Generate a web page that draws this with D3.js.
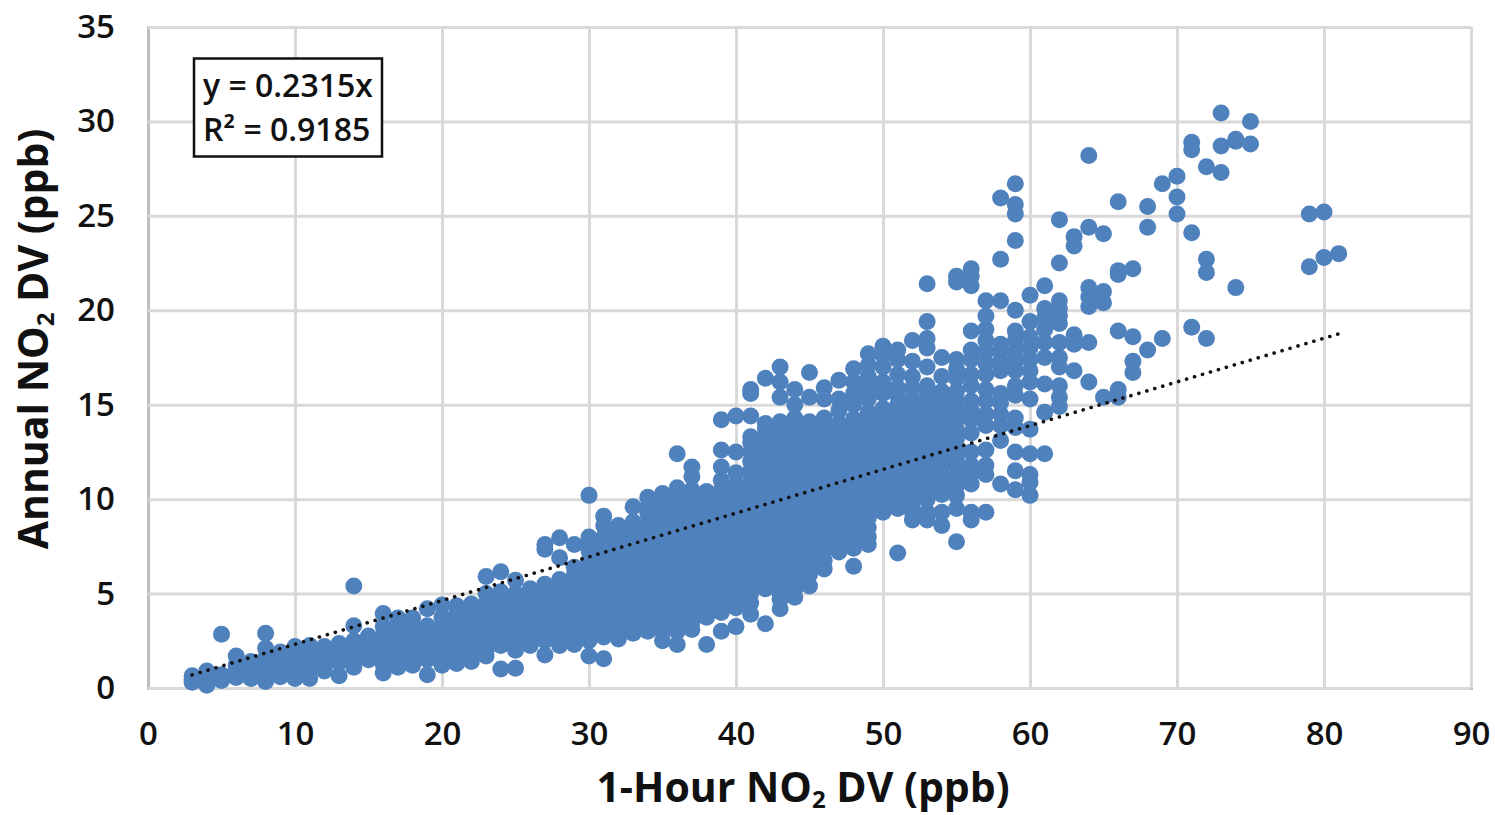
<!DOCTYPE html>
<html>
<head>
<meta charset="utf-8">
<script src="https://cdn.jsdelivr.net/npm/d3@7"></script>
<style>
html, body { margin: 0; padding: 0; background: #fff; }
svg { display: block; }
text { font-family: "Open Sans", sans-serif; fill: #111; }
</style>
</head>
<body>
<svg></svg>
<script>
const xTicks = [0, 10, 20, 30, 40, 50, 60, 70, 80, 90];
const yTicks = [0, 5, 10, 15, 20, 25, 30, 35];
const trendSlope = 0.2315;

// 1-hour DV (whole ppb) and the annual DVs at each one
const hourlyDV = [3, 4, 5, 6, 7, 8, 9, 10, 11, 12, 13, 14, 15, 16, 17, 18, 19, 20, 21, 22, 23, 24, 25, 26, 27, 28, 29,
    30, 31, 32, 33, 34, 35, 36, 37, 38, 39, 40, 41, 42, 43, 44, 45, 46, 47, 48, 49, 50, 51, 52, 53, 54, 55, 56, 57,
    58, 59, 60, 61, 62, 63, 64, 65, 66, 67, 68, 69, 70, 71, 72, 73, 74, 75, 79, 80, 81];
const annualDV = [
    [0.3, 0.45, 0.65],
    [0.15, 0.5, 0.9],
    [0.4, 0.7, 2.85],
    [0.55, 0.9, 1.2, 1.7],
    [0.5, 0.8, 1.1, 1.4],
    [0.35, 0.7, 1.0, 1.3, 1.6, 2.1, 2.9],
    [0.6, 0.95, 1.3, 1.6, 1.9],
    [0.5, 0.8, 1.1, 1.45, 1.8, 2.2],
    [0.5, 0.95, 1.3, 1.6, 1.95, 2.25],
    [0.9, 1.2, 1.5, 1.85, 2.2],
    [0.65, 1.35, 1.7, 2.0, 2.35],
    [1.1, 1.45, 1.8, 2.15, 2.5, 3.3, 5.4],
    [1.5, 1.85, 2.2, 2.5, 2.75],
    [0.8, 1.25, 1.75, 2.25, 2.75, 3.25, 3.95],
    [1.1, 1.5, 2.0, 2.5, 3.0, 3.5, 3.7],
    [1.2, 1.75, 2.25, 2.75, 3.25, 3.7],
    [0.7, 1.5, 2.0, 2.5, 3.0, 3.3, 4.2],
    [1.2, 1.75, 2.25, 2.75, 3.25, 3.75, 4.4],
    [1.3, 1.5, 2.0, 2.5, 3.0, 3.5, 4.0, 4.35],
    [1.4, 1.75, 2.25, 2.75, 3.25, 3.75, 4.25, 4.45],
    [1.7, 2.0, 2.5, 3.0, 3.5, 4.0, 4.5, 5.0, 5.9],
    [1.0, 2.25, 2.75, 3.25, 3.75, 4.25, 4.75, 5.1, 6.15],
    [1.05, 2.0, 2.5, 3.0, 3.5, 4.0, 4.5, 5.0, 5.7],
    [2.25, 2.75, 3.25, 3.75, 4.25, 4.75, 5.25],
    [1.75, 2.5, 3.0, 3.5, 4.0, 4.5, 5.0, 5.5, 7.35, 7.6],
    [2.25, 2.75, 3.25, 3.75, 4.25, 4.75, 5.25, 5.75, 6.9, 7.95],
    [2.3, 2.5, 3.0, 3.5, 4.0, 4.5, 5.0, 5.5, 6.0, 6.4, 7.6],
    [1.7, 2.5, 2.75, 3.25, 3.75, 4.25, 4.75, 5.25, 5.75, 6.25, 6.75, 7.25, 7.75, 8.0, 10.2],
    [1.55, 2.7, 3.0, 3.5, 4.0, 4.5, 5.0, 5.5, 6.0, 6.5, 7.0, 7.5, 8.0, 8.6, 9.1],
    [2.6, 2.75, 3.25, 3.75, 4.25, 4.75, 5.25, 5.75, 6.25, 6.75, 7.25, 7.75, 8.25, 8.6],
    [2.9, 3.0, 3.5, 4.0, 4.5, 5.0, 5.5, 6.0, 6.5, 7.0, 7.5, 8.0, 8.5, 8.8, 9.6],
    [3.0, 3.25, 3.75, 4.25, 4.75, 5.25, 5.75, 6.25, 6.75, 7.25, 7.75, 8.25, 8.75, 9.25, 9.6, 10.1],
    [2.5, 3.0, 3.5, 4.0, 4.5, 5.0, 5.5, 6.0, 6.5, 7.0, 7.5, 8.0, 8.5, 9.0, 9.5, 10.0, 10.3],
    [2.3, 3.0, 3.25, 3.75, 4.25, 4.75, 5.25, 5.75, 6.25, 6.75, 7.25, 7.75, 8.25, 8.75, 9.25, 9.75, 10.25, 10.6, 12.4],
    [3.1, 3.5, 4.0, 4.5, 5.0, 5.5, 6.0, 6.5, 7.0, 7.5, 8.0, 8.5, 9.0, 9.5, 10.0, 10.5, 11.2, 11.7],
    [2.3, 3.75, 4.25, 4.75, 5.25, 5.75, 6.25, 6.75, 7.25, 7.75, 8.25, 8.75, 9.25, 9.75, 10.25, 10.4],
    [3.0, 4.0, 4.5, 5.0, 5.5, 6.0, 6.5, 7.0, 7.5, 8.0, 8.5, 9.0, 9.5, 10.0, 10.5, 11.0, 11.7, 12.6, 14.2],
    [3.25, 4.25, 4.75, 5.25, 5.75, 6.25, 6.75, 7.25, 7.75, 8.25, 8.75, 9.25, 9.75, 10.25, 10.75, 11.4, 12.5, 14.4],
    [3.9, 4.5, 5.0, 5.5, 6.0, 6.5, 7.0, 7.5, 8.0, 8.5, 9.0, 9.5, 10.0, 10.5, 11.0, 11.5, 12.0, 12.5, 13.0, 13.3, 14.4, 15.6, 15.8],
    [3.4, 5.25, 5.75, 6.25, 6.75, 7.25, 7.75, 8.25, 8.75, 9.25, 9.75, 10.25, 10.75, 11.25, 11.75, 12.25, 12.75, 13.25, 13.75, 14.0, 16.4],
    [4.2, 4.7, 5.0, 5.5, 6.0, 6.5, 7.0, 7.5, 8.0, 8.5, 9.0, 9.5, 10.0, 10.5, 11.0, 11.5, 12.0, 12.5, 13.0, 13.5, 14.1, 15.4, 16.2, 17.0],
    [4.8, 5.25, 5.75, 6.25, 6.75, 7.25, 7.75, 8.25, 8.75, 9.25, 9.75, 10.25, 10.75, 11.25, 11.75, 12.25, 12.75, 13.25, 13.75, 14.3, 15.0, 15.8],
    [5.4, 6.0, 6.5, 7.0, 7.5, 8.0, 8.5, 9.0, 9.5, 10.0, 10.5, 11.0, 11.5, 12.0, 12.5, 13.0, 13.5, 14.1, 15.4, 16.7],
    [6.3, 6.75, 7.25, 7.75, 8.25, 8.75, 9.25, 9.75, 10.25, 10.75, 11.25, 11.75, 12.25, 12.75, 13.25, 13.75, 14.3, 15.3, 15.9],
    [7.2, 7.5, 8.0, 8.5, 9.0, 9.5, 10.0, 10.5, 11.0, 11.5, 12.0, 12.5, 13.0, 13.5, 14.0, 14.7, 15.3, 16.3],
    [6.45, 7.4, 7.75, 8.25, 8.75, 9.25, 9.75, 10.25, 10.75, 11.25, 11.75, 12.25, 12.75, 13.25, 13.75, 14.25, 15.0, 15.6, 16.2, 16.9],
    [7.6, 8.0, 8.5, 9.0, 9.5, 10.0, 10.5, 11.0, 11.5, 12.0, 12.5, 13.0, 13.5, 14.0, 14.6, 15.3, 15.9, 16.5, 17.1, 17.7],
    [9.3, 9.75, 10.25, 10.75, 11.25, 11.75, 12.25, 12.75, 13.25, 13.75, 14.25, 14.8, 15.6, 16.2, 17.0, 17.6, 18.1],
    [7.15, 9.5, 10.0, 10.5, 11.0, 11.5, 12.0, 12.5, 13.0, 13.5, 14.0, 14.5, 15.0, 15.5, 15.9, 16.6, 17.4, 17.9],
    [8.9, 9.3, 9.75, 10.25, 10.75, 11.25, 11.75, 12.25, 12.75, 13.25, 13.75, 14.25, 14.75, 15.25, 15.9, 16.5, 17.3, 18.4],
    [8.9, 9.3, 10.0, 10.5, 11.0, 11.5, 12.0, 12.5, 13.0, 13.5, 14.0, 14.5, 15.0, 15.5, 16.0, 17.0, 18.0, 18.5, 19.4, 21.4],
    [8.6, 9.3, 10.25, 10.75, 11.25, 11.75, 12.25, 12.75, 13.25, 13.75, 14.25, 14.75, 15.25, 15.7, 16.5, 17.5],
    [7.75, 9.5, 10.2, 10.7, 11.2, 11.7, 12.2, 12.7, 13.2, 13.7, 14.2, 14.7, 15.2, 15.7, 16.4, 16.9, 17.4, 21.5, 21.8],
    [8.9, 9.3, 10.8, 11.3, 11.8, 12.5, 13.5, 14.2, 14.7, 15.2, 16.0, 16.6, 17.4, 17.9, 18.9, 21.3, 21.8, 22.2],
    [9.3, 11.3, 11.8, 12.6, 13.9, 14.5, 15.2, 15.8, 16.6, 17.2, 17.8, 18.4, 19.0, 19.7, 20.5],
    [10.8, 13.1, 13.9, 14.5, 15.1, 15.6, 16.8, 17.3, 17.8, 18.2, 20.5, 22.7, 25.95],
    [10.5, 11.5, 12.5, 13.8, 14.3, 15.5, 16.0, 16.8, 17.3, 17.8, 18.4, 18.9, 20.0, 23.7, 25.1, 25.6, 26.7],
    [10.2, 10.9, 11.3, 12.4, 13.7, 15.3, 16.2, 16.8, 17.4, 18.0, 18.6, 19.4, 20.8],
    [12.4, 14.6, 16.1, 17.5, 18.3, 19.0, 19.6, 20.1, 21.3],
    [14.9, 15.4, 16.0, 17.0, 17.5, 18.3, 19.3, 19.7, 20.1, 20.5, 22.5, 24.8],
    [16.8, 18.2, 18.7, 23.4, 23.9],
    [16.2, 18.3, 20.2, 20.7, 21.2, 24.4, 28.2],
    [15.4, 20.4, 21.0, 24.05],
    [15.4, 15.8, 18.9, 21.9, 22.1, 25.75],
    [16.7, 17.3, 18.6, 22.2],
    [17.9, 24.4, 25.5],
    [18.5, 26.7],
    [25.1, 26.0, 27.1],
    [19.1, 24.1, 28.5, 28.9],
    [18.5, 22.0, 22.7, 27.6],
    [27.3, 28.7, 30.45],
    [21.2, 28.95, 29.05],
    [28.8, 30.0],
    [22.3, 25.1],
    [22.8, 25.2],
    [23.0]
];

const svgWidth = 1495;
const svgHeight = 815;
const margin = { top: 27, right: 24, bottom: 127, left: 148 };
const width = svgWidth - margin.left - margin.right;
const height = svgHeight - margin.top - margin.bottom;

const xScale = d3.scaleLinear().domain([0, 90]).range([0, width]);
const yScale = d3.scaleLinear().domain([0, 35]).range([height, 0]);

const svg = d3.select('svg')
    .attr('width', svgWidth)
    .attr('height', svgHeight);
const g = svg.append('g')
    .attr('transform', `translate(${margin.left}, ${margin.top})`);

const xAxis = g.append('g')
    .attr('transform', `translate(0, ${height})`)
    .call(d3.axisBottom(xScale).tickValues(xTicks).tickSize(-height).tickPadding(34));
const yAxis = g.append('g')
    .call(d3.axisLeft(yScale).tickValues(yTicks).tickSize(-width).tickPadding(33));

[xAxis, yAxis].forEach(axis => {
    axis.select('.domain').attr('stroke', '#bfbfbf').attr('stroke-width', 3);
    axis.selectAll('.tick line').attr('stroke', '#d9d9d9').attr('stroke-width', 3);
    axis.selectAll('.tick text')
        .attr('font-family', '"Open Sans", sans-serif')
        .attr('font-size', 33)
        .attr('font-weight', 600)
        .attr('fill', '#111');
});

const points = hourlyDV.flatMap((x, i) => annualDV[i].map(y => ({ x, y })));

g.selectAll('circle')
    .data(points)
    .enter()
    .append('circle')
    .attr('cx', d => xScale(d.x))
    .attr('cy', d => yScale(d.y))
    .attr('r', 8.5)
    .attr('fill', '#4f81bd');

// zero-intercept trendline over the x range of the data
const xExtent = d3.extent(hourlyDV);
g.append('line')
    .attr('x1', xScale(xExtent[0]))
    .attr('y1', yScale(xExtent[0] * trendSlope))
    .attr('x2', xScale(xExtent[1]))
    .attr('y2', yScale(xExtent[1] * trendSlope))
    .attr('stroke', '#111')
    .attr('stroke-width', 3.6)
    .attr('stroke-linecap', 'round')
    .attr('stroke-dasharray', '0.1 8.2');

const box = svg.append('g');
box.append('rect')
    .attr('x', 194)
    .attr('y', 58.5)
    .attr('width', 188)
    .attr('height', 98)
    .attr('fill', '#fff')
    .attr('stroke', '#111')
    .attr('stroke-width', 2.5);
box.append('text')
    .attr('x', 203)
    .attr('y', 97)
    .attr('font-size', 32)
    .attr('font-weight', 600)
    .text('y = 0.2315x');
box.append('text')
    .attr('x', 203)
    .attr('y', 141)
    .attr('font-size', 32)
    .attr('font-weight', 600)
    .text('R² = 0.9185');

function addTitle(sel, before, after) {
    sel.attr('text-anchor', 'middle')
        .attr('font-size', 41)
        .attr('font-weight', 700);
    sel.append('tspan').text(before);
    sel.append('tspan').attr('font-size', 24).attr('dy', 6).text('2');
    sel.append('tspan').attr('dy', -6).text(after);
}

addTitle(svg.append('text').attr('x', 803).attr('y', 802), '1-Hour NO', ' DV (ppb)');
addTitle(svg.append('text').attr('transform', 'translate(48, 339) rotate(-90)'), 'Annual NO', ' DV (ppb)');
</script>
</body>
</html>
